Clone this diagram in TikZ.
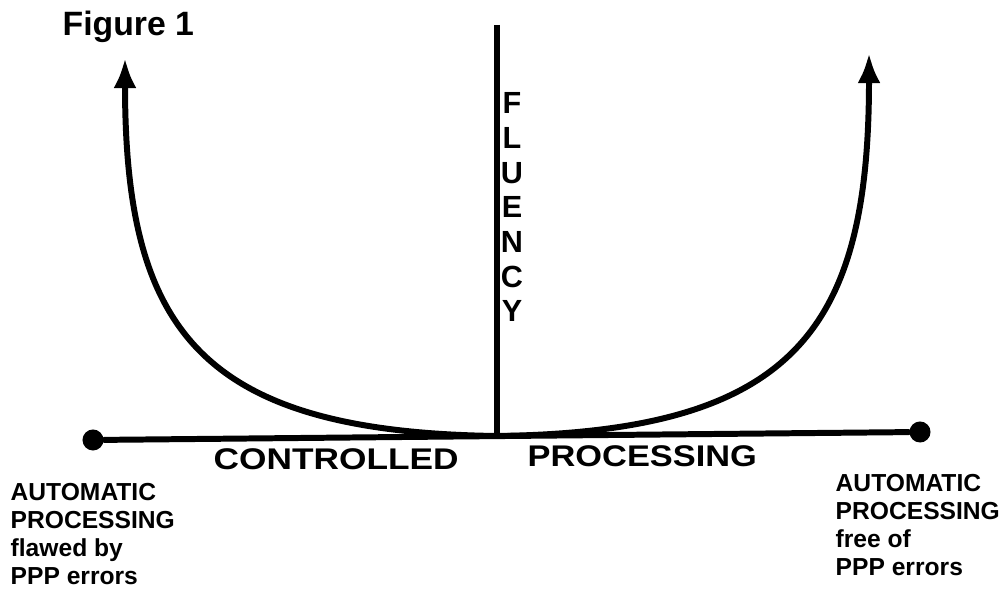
\documentclass[tikz,border=0pt]{standalone}
\usepackage{fontspec}
\setmainfont{Liberation Sans}
\usetikzlibrary{arrows.meta}
\tikzset{
  ink/.style={line width=1.7pt, line cap=round},
  dot/.style={circle, fill=black, inner sep=0pt, minimum size=0.21cm},
  txt/.style={inner sep=0pt, font=\bfseries},
  arrowend/.style={-{Latex[length=0.30cm, width=0.23cm]}},
}
\begin{document}
\begin{tikzpicture}[x=0.01cm, y=-0.01cm]
\useasboundingbox (0,0) rectangle (1001,589);
% title
\node[txt, anchor=base west, font=\bfseries\fontsize{9.6}{11}\selectfont] (title) at (62,36) {Figure 1};
% axes
\coordinate (top) at (497,25);
\coordinate (O) at (497,436);
\node[dot] (L) at (93,440) {};
\node[dot] (R) at (920,432) {};
\draw[ink] (L) -- (R);
\draw[ink, line cap=butt] (top) -- (O);
% curves
\coordinate (tipL) at (125,58);
\coordinate (tipR) at (869,53);
\draw[ink, arrowend] (O) .. controls (200,432) and (125,330) .. (tipL);
\draw[ink, arrowend] (O) .. controls (794,432) and (869,330) .. (tipR);
% fluency
\foreach \ch [count=\i from 0] in {F,L,U,E,N,C,Y}{
  \node[txt, anchor=north, font=\bfseries\fontsize{8.7}{10}\selectfont] (fl\i) at (512,{92+34.7*\i}) {\ch};
}
% axis labels
\node[txt, anchor=base west, font=\bfseries\fontsize{8.5}{10}\selectfont] (ctrl) at (213,470) {\scalebox{1.18}[1]{CONTROLLED}};
\node[txt, anchor=base west, font=\bfseries\fontsize{8.5}{10}\selectfont] (proc) at (527,467) {\scalebox{1.15}[1]{PROCESSING}};
% end labels
\node[txt, anchor=north west, align=left, font=\bfseries\fontsize{7}{7.97}\selectfont] (lablL) at (10,483) {AUTOMATIC\\PROCESSING\\flawed by\\PPP errors};
\node[txt, anchor=north west, align=left, font=\bfseries\fontsize{7}{7.97}\selectfont] (lablR) at (835,474) {AUTOMATIC\\PROCESSING\\free of\\PPP errors};
\end{tikzpicture}
\end{document}
